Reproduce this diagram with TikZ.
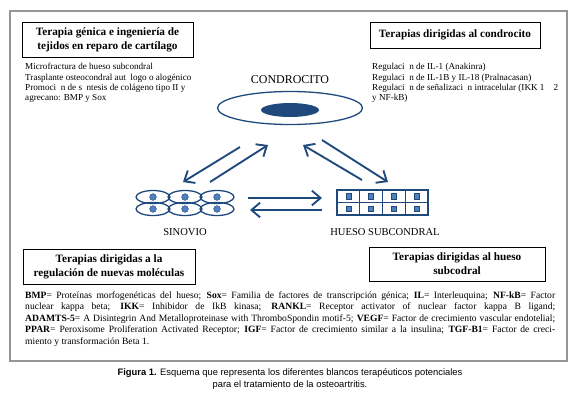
\documentclass[tikz,border=0pt]{standalone}
\usepackage{fontspec}
\setmainfont{Liberation Serif}
\newfontfamily\capfont{Liberation Sans}
\usetikzlibrary{arrows.meta,positioning,calc,shapes.geometric}
\definecolor{oadark}{RGB}{31,73,125}
\definecolor{oamid}{RGB}{79,129,189}
\definecolor{oaframe}{RGB}{150,150,150}

\begin{document}
\begin{tikzpicture}[x=0.3mm, y=-0.3mm,
  tbox/.style={draw, line width=0.6pt, align=center, inner sep=1pt,
               font=\fontsize{9.6}{12}\selectfont\bfseries},
  lista/.style={anchor=north west, align=left, inner sep=0pt,
               font=\fontsize{7.8}{8.9}\selectfont},
  rot/.style={font=\fontsize{9}{10}\selectfont},
  arr/.style={-{Straight Barb[length=2.6mm, width=4.4mm, line width=1.6pt]},
              line width=1.6pt, oadark},
  celda/.style={draw=oadark, line width=1.1pt}
]
\useasboundingbox (0,0) rectangle (580,400);
\draw[oaframe, line width=1pt] (10,11) rectangle (567,361);

% recuadros de terapias
\node[tbox, minimum width=51.3mm, minimum height=10.5mm] (genica) at (107.5,39.5)
  {Terapia génica e ingeniería de\\tejidos en reparo de cartílago};
\node[tbox, minimum width=51mm, minimum height=7.8mm] (condro) at (455,35)
  {Terapias dirigidas al condrocito};
\node[tbox, minimum width=51.6mm, minimum height=10.5mm] (molec) at (109,266.5)
  {Terapias dirigidas a la\\regulación de nuevas moléculas};
\node[tbox, minimum width=52.8mm, minimum height=10.2mm] (subcon) at (457,264)
  {Terapias dirigidas al hueso\\subcodral};

\node[lista] (lgen) at (25,63) {Microfractura de hueso subcondral\\
  Trasplante osteocondral aut\enspace logo o alogénico\\
  Promoci\enspace n de s\enspace ntesis de colágeno tipo II y\\
  agrecano: BMP y Sox};
\node[lista] (lcon) at (372,63) {Regulaci\enspace n de IL-1 (Anakinra)\\
  Regulaci\enspace n de IL-1B y IL-18 (Pralnacasan)\\
  Regulaci\enspace n de señalizaci\enspace n intracelular (IKK 1\quad 2\\
  y NF-kB)};

% condrocito
\node[font=\fontsize{10.2}{11}\selectfont] (tcond) at (290,80) {CONDROCITO};
\node[draw=oadark, line width=1.1pt, ellipse, minimum width=43.5mm,
      minimum height=9.9mm] (cond) at (290,108) {};
\node[fill=oadark, ellipse, minimum width=17.4mm, minimum height=4.2mm,
      inner sep=0pt] (nucl) at (290,110) {};

% sinovio
\foreach \cx in {153,185,217} {
  \foreach \cy in {197,209} {
    \draw[celda] (\cx,\cy) ellipse (5.1mm and 1.95mm);
    \fill[oamid, draw=oadark, line width=0.4pt] (\cx,\cy) circle (1mm);
  }
}
\node[rot] (sinov) at (185,232) {SINOVIO};

% hueso subcondral
\draw[celda] (337,190) rectangle (428,215);
\draw[celda] (337,202.5) -- (428,202.5);
\foreach \i in {1,2,3} \draw[celda] ({337+\i*22.75},190) -- ({337+\i*22.75},215);
\foreach \i in {0,1,2,3} {
  \foreach \cy in {196.25,208.75} {
    \fill[oamid, draw=oadark, line width=0.4pt]
      ({337+\i*22.75+11.375-2.6},{\cy-2.6}) rectangle ++(5.2,5.2);
  }
}
\node[rot] (hueso) at (385,232) {HUESO SUBCONDRAL};

% flechas
\coordinate (c1) at (240,147); \coordinate (s1) at (183,182);
\coordinate (s2) at (210,182); \coordinate (c2) at (268,145);
\coordinate (h1) at (362,180); \coordinate (c3) at (303,145);
\coordinate (c4) at (322,140); \coordinate (h2) at (388,182);
\coordinate (s3) at (248,198); \coordinate (h3) at (322,198);
\coordinate (h4) at (322,210); \coordinate (s4) at (250,210);
\draw[arr] (c1) -- (s1);
\draw[arr] (s2) -- (c2);
\draw[arr] (h1) -- (c3);
\draw[arr] (c4) -- (h2);
\draw[arr] (s3) -- (h3);
\draw[arr] (h4) -- (s4);

% abreviaturas
\node[anchor=north west, inner sep=0pt, text width=159mm, align=justify,
      font=\fontsize{8.2}{9.9}\selectfont] (abrev) at (25,291)
  {\textbf{BMP}= Proteínas morfogenéticas del hueso; \textbf{Sox}= Familia de factores de transcripción génica;\enspace \textbf{IL}= Interleuquina; \textbf{NF-kB}= Factor\linebreak
  nuclear kappa beta; \textbf{IKK}= Inhibidor de IkB kinasa; \textbf{RANKL}= Receptor activator of nuclear factor kappa B ligand;\linebreak
  \textbf{ADAMTS-5}= A Disintegrin And Metalloproteinase with ThromboSpondin motif-5; \textbf{VEGF}= Factor de crecimiento vascular endotelial;\linebreak
  \textbf{PPAR}= Peroxisome Proliferation Activated Receptor; \textbf{IGF}= Factor de crecimiento similar a la insulina; \textbf{TGF-B1}= Factor de creci-\linebreak
  miento y transformación Beta 1.};

% pie de figura
\node[align=center, font=\capfont\fontsize{8}{11}\selectfont] (pie) at (290,379)
  {\textbf{Figura 1.} Esquema que representa los diferentes blancos terapéuticos potenciales\\
  para el tratamiento de la osteoartritis.};
\end{tikzpicture}
\end{document}
